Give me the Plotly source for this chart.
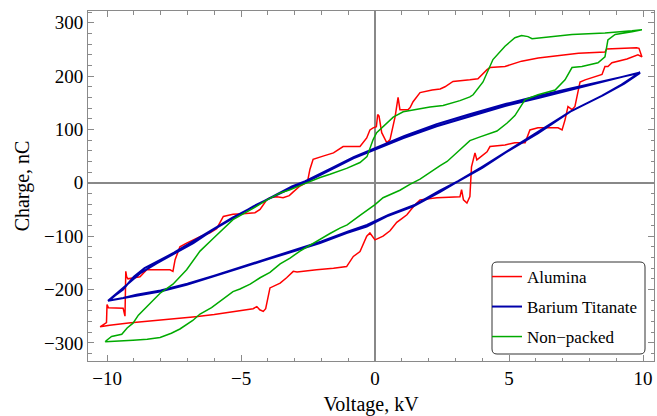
import plotly.graph_objects as go

# ---------------- data ----------------
# Alumina: lower branch (increasing voltage), then upper branch (decreasing voltage)
alumina_v = [-10.26, -10.05, -9.9, -9.2, -8.5, -7.95, -7.3, -6.7, -6.0, -5.4, -5.0, -4.55, -4.41, -4.3, -4.17, -4.08,
             -3.92, -3.7, -3.54, -3.3, -3.05, -2.91, -2.5, -2.18, -1.55, -1.06, -0.81, -0.56, -0.31, -0.19, 0.0,
             0.3, 0.56, 0.81, 1.0, 1.19, 1.49, 1.68, 2.31, 3.17, 3.23, 3.3, 3.43, 3.54, 3.6, 3.73, 3.8, 4.18,
             4.29, 4.85, 5.22, 5.6, 5.78, 6.08, 6.83, 6.98, 7.09, 7.2, 7.35, 7.46, 7.65, 7.84, 8.47, 8.58, 8.69,
             8.84, 9.4, 9.81, 9.96, 9.9, 9.95, 9.85, 9.76,
             9.2, 8.64, 8.58, 7.59, 6.09, 5.47, 4.85, 4.29, 4.18, 3.84, 3.54, 2.91, 2.61, 2.43, 2.13, 1.68,
             1.42, 1.31, 1.23, 0.93, 0.86, 0.8, 0.75, 0.56, 0.44, 0.25, 0.15, 0.1, 0.05, -0.07, -0.19, -0.31,
             -0.56, -1.19, -1.55, -1.94, -2.13, -2.31, -2.43, -2.52, -2.61, -2.8, -3.05, -3.2, -3.43, -3.66,
             -3.92, -4.04, -4.29, -4.48, -4.93, -5.3, -5.66, -5.91, -6.16, -6.53, -7.03, -7.28, -7.46, -7.54,
             -7.65, -8.52, -8.77, -9.22, -9.27, -9.3, -9.33, -9.38, -9.4, -9.95, -10.0, -10.02, -10.26]
alumina_q = [-270, -268, -267, -263, -260, -257, -254, -251, -247, -243, -240, -236, -232, -238, -241, -236,
             -197, -192, -188, -178, -166, -167, -164, -163, -160, -157, -138, -129, -100, -94, -107,
             -100, -90, -74, -67, -60, -41, -32, -28, -26, -13, -32, -38, -26, 30, 56, 43, 58,
             68, 71, 75, 75, 99, 103, 103, 99, 118, 143, 137, 143, 189, 193, 203, 218, 218,
             225, 232, 240, 236, 245, 240, 252, 253,
             252, 251, 245, 243, 234, 228, 218, 216, 212, 195, 193, 190, 180, 176, 174, 169,
             152, 141, 137, 137, 160, 140, 124, 81, 75, 94, 125, 128, 105, 103, 99, 84,
             68, 68, 56, 50, 47, 44, 25, 2, -1, -6, -17, -24, -28, -26,
             -28, -32, -50, -56, -58, -59, -63, -86, -94, -101, -113, -120, -144, -166,
             -163, -163, -176, -180, -176, -166, -250, -240, -235, -234, -228, -262, -270]

# Barium Titanate: two overlapping cycles (lower branch then upper branch each)
barium_v = [-9.96, -9.5, -9.02, -8.02, -7.03, -6.03, -5.04, -4.04, -3.05, -2.05, -1.06, -0.31, 0.44, 1.43,
            2.43, 3.0, 4.0, 4.85, 6.09, 7.34, 8.46, 9.2, 9.89,
            8.58, 7.34, 6.09, 4.85, 3.54, 2.3, 1.06, 0.0, -0.81, -1.55, -2.55, -3.05, -3.79, -4.54, -5.28,
            -6.03, -6.78, -7.53, -8.15, -8.77, -9.39, -9.96,
            -9.4, -8.9, -8.0, -7.0, -6.0, -5.0, -4.0, -3.0, -2.0, -1.0, -0.3, 0.5, 1.5, 2.4, 3.1, 4.0, 4.9,
            6.0, 7.3, 8.5, 9.3, 9.89,
            8.6, 7.3, 6.1, 4.9, 3.5, 2.3, 1.1, 0.0, -0.8, -1.6, -2.6, -3.1, -3.8, -4.5, -5.3, -6.0, -6.8,
            -7.5, -8.1, -8.6, -9.0, -9.4, -9.7, -9.96]
barium_q = [-221, -217, -213, -204, -191, -176, -160, -144, -129, -113, -94, -82, -63, -44,
            -17, 0, 28, 56, 93, 135, 163, 184, 207,
            190, 174, 159, 144, 124, 106, 84, 62, 46, 27, 2, -8, -26, -44, -66,
            -88, -113, -134, -151, -170, -196, -221,
            -216, -210, -202, -189, -174, -158, -142, -127, -110, -91, -79, -60, -41, -15, 3, 30, 58,
            92, 134, 164, 186, 206,
            192, 177, 163, 148, 128, 110, 88, 65, 48, 28, 3, -7, -25, -43, -65, -86, -110,
            -131, -147, -160, -176, -200, -211, -222]

# Non-packed: lower branch then upper branch
nonpacked_v = [-10.07, -9.6, -9.03, -8.5, -8.02, -7.6, -7.28, -6.8, -6.53, -6.1, -5.78, -5.3, -5.04, -4.66,
               -4.29, -3.92, -3.54, -3.17, -2.8, -2.43, -2.05, -1.68, -1.31, -1.04, -0.56, 0.0, 0.3, 0.93,
               1.3, 1.68, 2.43, 2.69, 3.17, 3.54, 3.92, 4.55, 4.93, 5.22, 5.6, 6.08, 6.72, 7.09, 7.35,
               7.72, 8.32, 8.58, 8.69, 8.96, 9.59, 9.96,
               9.59, 8.58, 7.35, 5.86, 5.71, 5.47, 5.22, 4.85, 4.4, 4.03, 3.66, 3.54, 3.17, 2.54, 2.05,
               1.57, 1.05, 0.68, 0.37, 0.06, -0.07, -0.3, -0.56, -1.06, -1.68, -2.05, -2.69, -3.17, -3.54,
               -4.03, -4.55, -5.3, -6.03, -6.53, -7.03, -7.54, -8.02, -8.5, -8.83, -9.03, -9.25, -9.45,
               -9.83, -10.01, -10.07]
nonpacked_q = [-298, -296, -295, -293, -290, -282, -274, -258, -246, -234, -222, -204, -199, -190,
               -178, -168, -152, -141, -128, -117, -105, -95, -85, -79, -61, -41, -28, -14,
               -3, 7, 32, 40, 62, 79, 86, 97, 112, 126, 156, 165, 174, 193, 216,
               218, 225, 236, 268, 278, 283, 287,
               285, 281, 278, 270, 274, 276, 272, 256, 231, 189, 165, 161, 154, 145, 142,
               138, 133, 123, 109, 94, 81, 49, 38, 27, 16, 10, -3, -13, -19,
               -32, -48, -69, -104, -128, -163, -190, -207, -232, -248, -263, -272, -284,
               -288, -295, -298]

series_names = ["Alumina", "Barium Titanate", "Non\u2212packed"]
series_colors = ["#ff0000", "#0000aa", "#00aa00"]

x_ticks = [-10, -5, 0, 5, 10]
y_ticks = [-300, -200, -100, 0, 100, 200, 300]

# ---------------- figure ----------------
W, H = 657, 416
ML, MR, MT, MB = 88, 3, 11, 55
PW, PH = W - ML - MR, H - MT - MB

def px_x(p):
    return (p - ML) / PW

def px_y(p):
    return (H - MB - p) / PH

fig = go.Figure()
data = [(alumina_v, alumina_q, 1.5), (barium_v, barium_q, 2.0), (nonpacked_v, nonpacked_q, 1.5)]
legends = ["legend", "legend2", "legend3"]
for (xv, yv, lw), name, col, lg in zip(data, series_names, series_colors, legends):
    fig.add_trace(go.Scatter(x=xv, y=yv, mode="lines", name=name,
                             line=dict(color=col, width=lw), legend=lg))

FRAME = "#8a8a8a"
FF = "Liberation Serif"

axis_common = dict(
    showgrid=False, showline=True, linecolor=FRAME, linewidth=1, mirror="ticks",
    ticks="inside", ticklen=6, tickwidth=1, tickcolor=FRAME,
    zeroline=True, zerolinecolor="#888888", zerolinewidth=1.6,
    tickfont=dict(family=FF, size=19, color="black"),
)

fig.update_xaxes(range=[-10.71, 10.41], tickvals=x_ticks,
                 minor=dict(dtick=1, tick0=0, ticks="inside", ticklen=3.5, tickcolor=FRAME, showgrid=False),
                 title=dict(text="Voltage, kV", font=dict(family=FF, size=20, color="black"), standoff=12),
                 **axis_common)
fig.update_yaxes(range=[-334, 322], tickvals=y_ticks,
                 minor=dict(dtick=20, tick0=0, ticks="inside", ticklen=3.5, tickcolor=FRAME, showgrid=False),
                 title=dict(text="Charge, nC", font=dict(family=FF, size=20, color="black"), standoff=8),
                 **axis_common)

# rounded legend frame
bx0, bx1, by0, by1, r = 492, 645, 262, 354, 5
rx, ry = r / PW, r / PH
X0, X1, Y0, Y1 = px_x(bx0), px_x(bx1), px_y(by1), px_y(by0)
path = (f"M {X0+rx},{Y0} L {X1-rx},{Y0} Q {X1},{Y0} {X1},{Y0+ry} L {X1},{Y1-ry} Q {X1},{Y1} {X1-rx},{Y1} "
        f"L {X0+rx},{Y1} Q {X0},{Y1} {X0},{Y1-ry} L {X0},{Y0+ry} Q {X0},{Y0} {X0+rx},{Y0} Z")
fig.add_shape(type="path", path=path, xref="paper", yref="paper",
              line=dict(color="#333333", width=1), fillcolor="white", layer="above")

leg_font = dict(family=FF, size=17, color="black")
item_py = [277, 307, 337]
fig.update_layout(
    legend=dict(x=px_x(487), y=px_y(item_py[0]), xanchor="left", yanchor="middle",
                bgcolor="rgba(0,0,0,0)", borderwidth=0, font=leg_font),
    legend2=dict(x=px_x(487), y=px_y(item_py[1]), xanchor="left", yanchor="middle",
                 bgcolor="rgba(0,0,0,0)", borderwidth=0, font=leg_font),
    legend3=dict(x=px_x(487), y=px_y(item_py[2]), xanchor="left", yanchor="middle",
                 bgcolor="rgba(0,0,0,0)", borderwidth=0, font=leg_font),
)

fig.update_layout(width=W, height=H, margin=dict(l=ML, r=MR, t=MT, b=MB, autoexpand=False),
                  paper_bgcolor="white", plot_bgcolor="white", showlegend=True,
                  font=dict(family=FF, size=17, color="black"))

fig.write_html("out.html")
